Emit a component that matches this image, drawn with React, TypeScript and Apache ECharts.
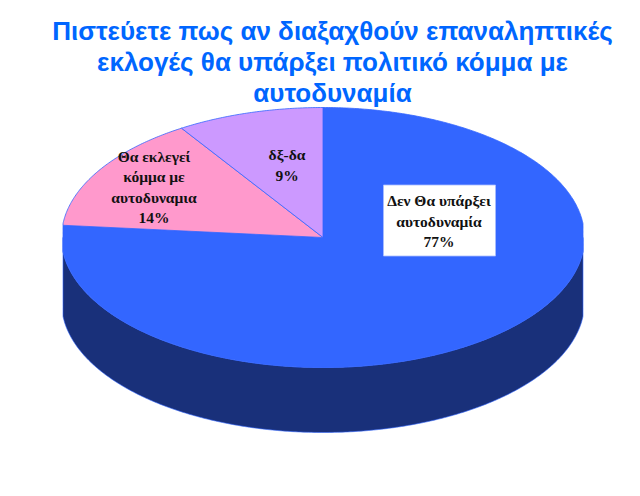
import React, { useEffect, useRef } from "react";
import * as echarts from "echarts";

const titleLines = [
  "Πιστεύετε πως αν διαξαχθούν επαναληπτικές",
  "εκλογές θα υπάρξει πολιτικό κόμμα με",
  "αυτοδυναμία",
];
const categories = ["Δεν Θα υπάρξει\nαυτοδυναμία", "Θα εκλεγεί\nκόμμα με\nαυτοδυναμια", "δξ-δα"];
const shares = [76.5, 14.4, 9.1];
const topColors = ["#3366ff", "#ff99cc", "#cc99ff"];
const sideColors = ["#19307a", "#99527a", "#7a5c99"];
const labelCenters = [
  [439, 221],
  [154, 187],
  [287, 165],
];

const CX = 323;
const CY = 237.5;
const RX = 261.5;
const HALF_WIDTH = 260;
const RY = 130;
const DEPTH = 65;
const TOTAL = shares.reduce((a, b) => a + b, 0);

const startOf = (i: number) => (shares.slice(0, i).reduce((a, b) => a + b, 0) / TOTAL) * Math.PI * 2;
const pt = (a: number, dy = 0): number[] => [
  CX + Math.max(-HALF_WIDTH, Math.min(HALF_WIDTH, RX * Math.sin(a))),
  CY - RY * Math.cos(a) + dy,
];
const arc = (a0: number, a1: number, dy = 0): number[][] => {
  const n = Math.max(2, Math.ceil((a1 - a0) / 0.01));
  const out: number[][] = [];
  for (let k = 0; k <= n; k++) out.push(pt(a0 + ((a1 - a0) * k) / n, dy));
  return out;
};

const renderSide = (params: any) => {
  const i = params.dataIndex;
  const a0 = Math.max(startOf(i), Math.PI / 2);
  const a1 = Math.min(startOf(i + 1), (Math.PI * 3) / 2);
  if (a1 <= a0) return { type: "group", children: [] };
  const points = [...arc(a0, a1, 0), ...arc(a0, a1, DEPTH).reverse()];
  return {
    type: "polygon",
    shape: { points },
    style: { fill: sideColors[i], stroke: "#3366ff", lineWidth: 0.6 },
  };
};

const renderTop = (params: any) => {
  const i = params.dataIndex;
  const points = [[CX, CY], ...arc(startOf(i), startOf(i + 1))];
  return {
    type: "polygon",
    shape: { points },
    style: { fill: topColors[i], stroke: "#3366ff", lineWidth: 0.8 },
  };
};

const renderLabel = (params: any, api: any) => {
  const i = params.dataIndex;
  const [x, y] = labelCenters[i];
  const text = `${categories[i]}\n${Math.round(api.value(0))}%`;
  const children: any[] = [];
  if (i === 0) {
    children.push({
      type: "rect",
      shape: { x: 383.5, y: 185, width: 112, height: 71 },
      style: { fill: "#ffffff", stroke: "#a9bcff", lineWidth: 0.8 },
    });
  }
  children.push({
    type: "text",
    x,
    y,
    style: {
      text,
      fill: "#111111",
      font: 'bold 15.5px "Liberation Serif"',
      align: "center",
      verticalAlign: "middle",
      lineHeight: 20.5,
    },
  });
  return { type: "group", children };
};

export default function App() {
  const ref = useRef<HTMLDivElement>(null);
  useEffect(() => {
    const chart = echarts.init(ref.current!, undefined, { renderer: "svg" });
    const data = shares.map((v) => [v]);
    chart.setOption({
      animation: false,
      backgroundColor: "#ffffff",
      title: {
        text: titleLines.join("\n"),
        left: 332.5,
        top: 15,
        padding: 0,
        textAlign: "center",
        textStyle: {
          color: "#0066ff",
          fontFamily: '"Liberation Sans"',
          fontWeight: "bold",
          fontSize: 26,
          lineHeight: 31,
        },
      },
      series: [
        { type: "custom", coordinateSystem: "none", silent: true, z: 1, data, renderItem: renderSide },
        { type: "custom", coordinateSystem: "none", silent: true, z: 2, data, renderItem: renderTop },
        { type: "custom", coordinateSystem: "none", silent: true, z: 3, data, renderItem: renderLabel },
      ],
    });
    return () => chart.dispose();
  }, []);
  return <div ref={ref} style={{ position: "absolute", left: 0, top: 0, width: 640, height: 496 }} />;
}
